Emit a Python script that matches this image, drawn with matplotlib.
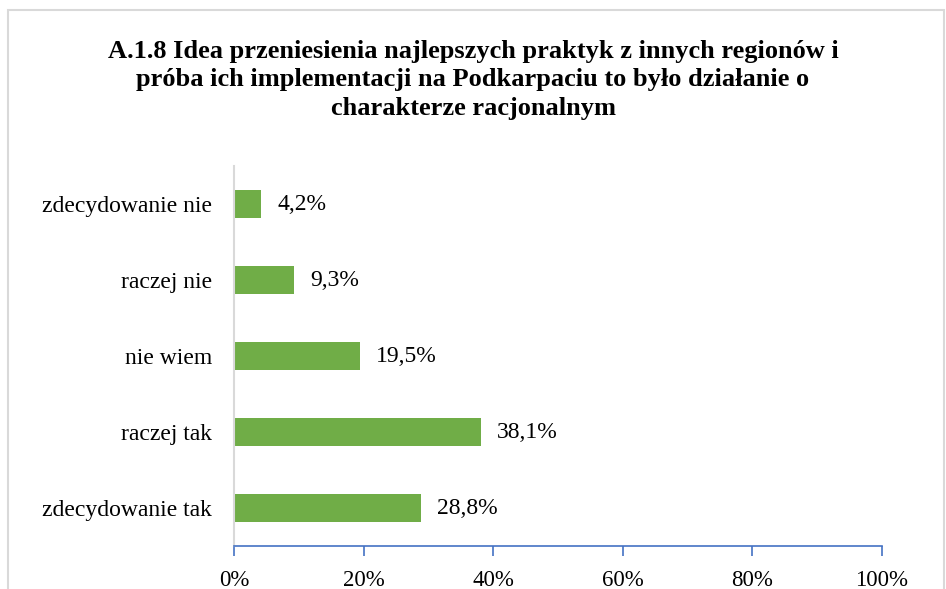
import matplotlib.pyplot as plt
from matplotlib.patches import Rectangle

categories = ['zdecydowanie tak', 'raczej tak', 'nie wiem', 'raczej nie', 'zdecydowanie nie']
values = [28.8, 38.1, 19.5, 9.3, 4.2]
labels = ['28,8%', '38,1%', '19,5%', '9,3%', '4,2%']
xticks = [0, 20, 40, 60, 80, 100]
title = ('A.1.8 Idea przeniesienia najlepszych praktyk z innych regionów i\n'
         'próba ich implementacji na Podkarpaciu to było działanie o\n'
         'charakterze racjonalnym')

plt.rcParams['font.family'] = ['Liberation Serif', 'DejaVu Serif']

fig = plt.figure(figsize=(9.46, 5.89), dpi=100)
# outer chart frame
fig.patches.append(Rectangle((8/946, -0.1), 936/946, 1.1 - 10/589, transform=fig.transFigure,
                             fill=False, edgecolor='#d9d9d9', linewidth=1.5))
ax = fig.add_axes([234/946, 1 - 546/589, 648/946, 380/589])

y = range(len(categories))
ax.barh(y, values, height=0.36, color='#70ad47')
for i, v in enumerate(values):
    ax.annotate(labels[i], (v, i), xytext=(11.5, 0), textcoords='offset points',
                va='center', ha='left', fontsize=17, color='#000000')

ax.set_xlim(0, 100)
ax.set_ylim(-0.5, len(categories) - 0.5)
ax.set_xticks(xticks)
ax.set_xticklabels([f'{t}%' for t in xticks], fontsize=16.5)
ax.set_yticks(list(y))
ax.set_yticklabels(categories, fontsize=17)
ax.tick_params(axis='y', length=0, pad=16)
ax.tick_params(axis='x', direction='out', length=7, width=1.2, color='#4472c4', pad=10)

for s in ['top', 'right']:
    ax.spines[s].set_visible(False)
ax.spines['left'].set_color('#d9d9d9')
ax.spines['left'].set_linewidth(1.5)
ax.spines['bottom'].set_color('#4472c4')
ax.spines['bottom'].set_linewidth(1.2)

fig.text(0.5, 1 - 80/589, title, ha='center', va='center', fontsize=19,
         fontweight='bold', linespacing=1.32)

fig.savefig('out.png', dpi=100)
